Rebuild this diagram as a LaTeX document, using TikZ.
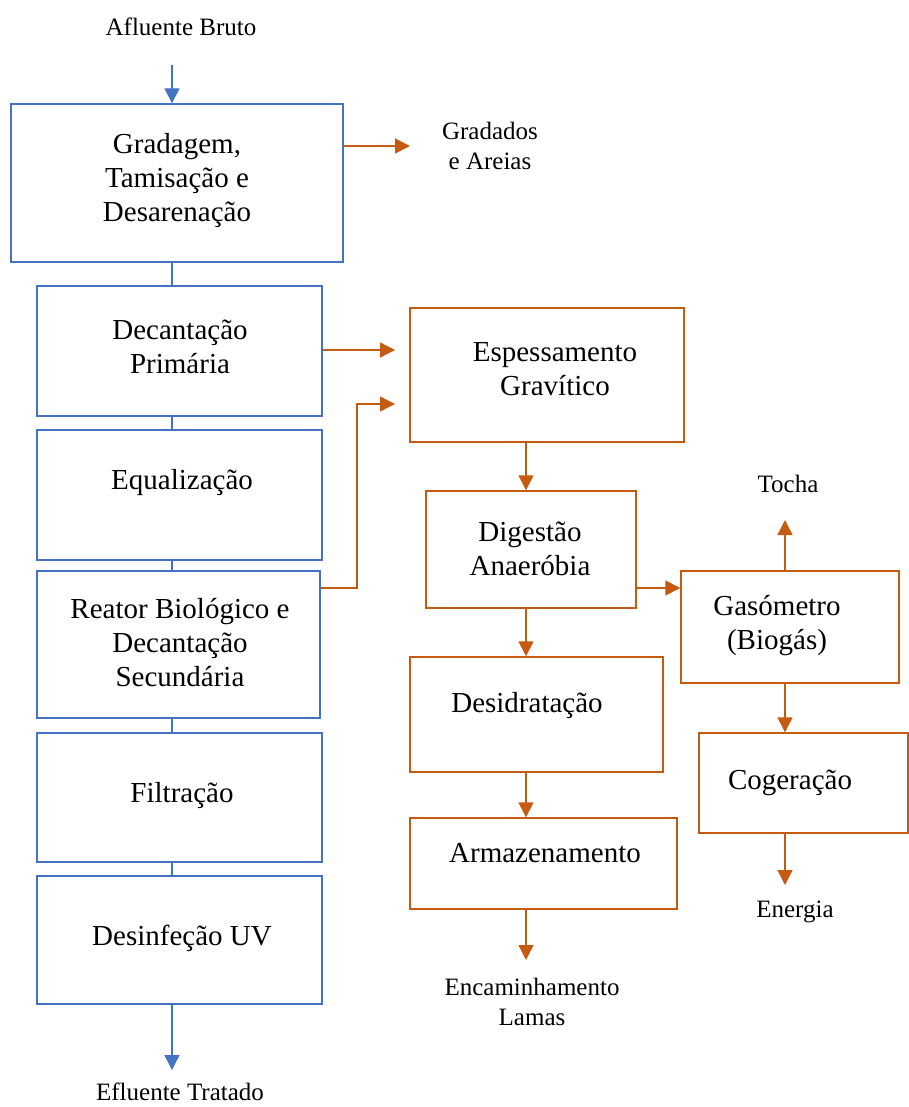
\documentclass[tikz,border=0pt]{standalone}
\usepackage{fontspec}
\setmainfont{Liberation Serif}
\usetikzlibrary{arrows.meta}
\definecolor{bblue}{HTML}{4472C4}
\definecolor{borange}{HTML}{C55A11}
\begin{document}
\begin{tikzpicture}[x=1pt,y=-1pt,
  bbox/.style={draw=bblue,line width=1.4pt,rectangle,inner sep=0pt},
  obox/.style={draw=borange,line width=1.4pt,rectangle,inner sep=0pt},
  btxt/.style={align=center,font=\fontsize{29}{34}\selectfont,inner sep=0pt},
  ltxt/.style={align=center,font=\fontsize{25}{30}\selectfont,inner sep=0pt},
  barr/.style={draw=bblue,line width=1.4pt,-{Triangle[width=15pt,length=15pt]}},
  bline/.style={draw=bblue,line width=1.4pt},
  oarr/.style={draw=borange,line width=1.4pt,-{Triangle[width=15pt,length=15pt]}},
]
\useasboundingbox (0,0) rectangle (909,1107);
% left column boxes
\node[bbox,minimum width=332pt,minimum height=158pt] (b1) at (177,183) {};
\node[bbox,minimum width=285pt,minimum height=130pt] (b2) at (179.5,351) {};
\node[bbox,minimum width=285pt,minimum height=130pt] (b3) at (179.5,495) {};
\node[bbox,minimum width=283pt,minimum height=147pt] (b4) at (178.5,644.5) {};
\node[bbox,minimum width=285pt,minimum height=129pt] (b5) at (179.5,797.5) {};
\node[bbox,minimum width=285pt,minimum height=128pt] (b6) at (179.5,940) {};
% left texts
\node[btxt] (t1) at (177,181) {Gradagem,\\Tamisação e\\Desarenação};
\node[btxt] (t2) at (180,347) {Decantação\\Primária};
\node[btxt] (t3) at (182,483) {Equalização};
\node[btxt] (t4) at (180,643) {Reator Biológico e\\Decantação\\Secundária};
\node[btxt] (t5) at (182,796) {Filtração};
\node[btxt] (t6) at (182,938) {Desinfeção UV};
\node[ltxt] (lin) at (181,27) {Afluente Bruto};
\node[ltxt] (lout) at (180,1092) {Efluente Tratado};
\node[ltxt] (lgrad) at (490,146) {Gradados\\e Areias};
% right boxes
\node[obox,minimum width=274pt,minimum height=134pt] (esp) at (547,375) {};
\node[obox,minimum width=210pt,minimum height=117pt] (dig) at (531,549.5) {};
\node[obox,minimum width=218pt,minimum height=112pt] (gas) at (790,627) {};
\node[obox,minimum width=209pt,minimum height=100pt] (cog) at (803.5,783) {};
\node[obox,minimum width=253pt,minimum height=115pt] (des) at (536.5,714.5) {};
\node[obox,minimum width=267pt,minimum height=91pt] (arm) at (543.5,863.5) {};
% right texts
\node[btxt] (te) at (555,369) {Espessamento\\Gravítico};
\node[btxt] (td) at (530,549) {Digestão\\Anaeróbia};
\node[btxt] (tg) at (777,626) {Gasómetro\\(Biogás)};
\node[btxt] (tc) at (790,783) {Cogeração};
\node[btxt] (tds) at (527,706) {Desidratação};
\node[btxt] (ta) at (545,853) {Armazenamento};
\node[ltxt] (ltocha) at (788,484) {Tocha};
\node[ltxt] (lener) at (795,912) {Energia};
\node[ltxt] (lenc) at (532,1002) {Encaminhamento\\Lamas};
% helper coordinates
\coordinate (lx) at (172,0);
\coordinate (rx) at (526,0);
\coordinate (gx) at (785,0);
\coordinate (ain) at (172,65);
\coordinate (aout) at (172,1070);
\coordinate (ag) at (410,146);
\coordinate (ae1) at (395,350);
\coordinate (ae2) at (395,404);
\coordinate (k1) at (357,588);
\coordinate (k2) at (357,404);
\coordinate (at) at (785,520);
\coordinate (aen) at (785,885);
\coordinate (aenc) at (526,960);
% blue connectors
\draw[barr] (ain) -- (b1.north -| lx);
\draw[bline] (b1.south -| lx) -- (b2.north -| lx);
\draw[bline] (b2.south -| lx) -- (b3.north -| lx);
\draw[bline] (b3.south -| lx) -- (b4.north -| lx);
\draw[bline] (b4.south -| lx) -- (b5.north -| lx);
\draw[bline] (b5.south -| lx) -- (b6.north -| lx);
\draw[barr] (b6.south -| lx) -- (aout);
% orange connectors
\draw[oarr] (b1.east |- ag) -- (ag);
\draw[oarr] (b2.east |- ae1) -- (ae1);
\draw[oarr] (b4.east |- k1) -- (k1) -- (k2) -- (ae2);
\draw[oarr] (esp.south -| rx) -- (dig.north -| rx);
\draw[oarr] (dig.east |- k1) -- (gas.west |- k1);
\draw[oarr] (gas.north -| gx) -- (at);
\draw[oarr] (gas.south -| gx) -- (cog.north -| gx);
\draw[oarr] (cog.south -| gx) -- (aen);
\draw[oarr] (dig.south -| rx) -- (des.north -| rx);
\draw[oarr] (des.south -| rx) -- (arm.north -| rx);
\draw[oarr] (arm.south -| rx) -- (aenc);
\end{tikzpicture}
\end{document}
